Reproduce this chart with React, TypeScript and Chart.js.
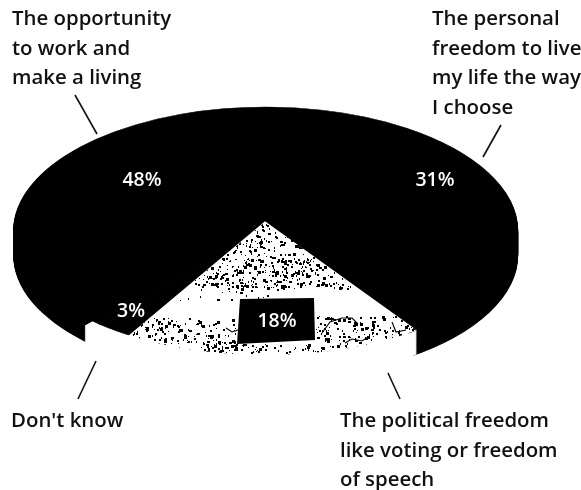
import { useEffect, useRef } from "react";
import { Chart, ArcElement, PieController } from "chart.js";

Chart.register(ArcElement, PieController);

const categories = [
  "Don't know",
  "The opportunity to work and make a living",
  "The personal freedom to live my life the way I choose",
  "The political freedom like voting or freedom of speech",
];
const shares = [3, 48, 31, 18];
const topColors = ["#000000", "#000000", "#000000", "#ffffff"];
const sideColors = ["#ffffff", "#000000", "#000000", "#ffffff"];

const callouts = [
  { lines: ["The opportunity", "to work and", "make a living"], x: 12, y: 25 },
  { lines: ["The personal", "freedom to live", "my life the way", "I choose"], x: 432, y: 25 },
  { lines: ["Don't know"], x: 11, y: 427 },
  { lines: ["The political freedom", "like voting or freedom", "of speech"], x: 340, y: 427 },
];
const leaders = [
  [75, 95, 97, 134],
  [501, 125, 483, 157],
  [96, 361, 78, 399],
  [388, 373, 400, 399],
];
// Anchor of each percentage, in the same order as `shares`.
const shareAnchors = [
  [131, 311],
  [142, 180],
  [435, 180],
  [277, 321],
];
const labelPlate = [
  [240, 299],
  [314, 298],
  [315, 340],
  [237, 344],
];
// Areas of the front wedge that carry a printed mottling: x0, x1, y0, y1, count.
const mottleBands = [
  [245, 300, 222, 250, 70],
  [185, 345, 240, 262, 150],
  [195, 350, 258, 288, 320],
  [160, 300, 282, 300, 30],
  [130, 238, 318, 352, 190],
  [200, 238, 340, 354, 50],
  [316, 420, 316, 350, 190],
  [240, 330, 344, 354, 45],
];
// Longer ink traces left in the lower part of the wedge.
const mottleTraces = [
  [[322, 333], [330, 322], [342, 318], [352, 318], [358, 324]],
  [[345, 343], [352, 339], [362, 341], [368, 337]],
  [[226, 328], [232, 332], [238, 330]],
  [[392, 322], [396, 332], [406, 330]],
];

const CX = 265.7;
const CY = 231;
const RX = 252;
const RY = 124;
const DEPTH = 24;

function tilt(ctx: CanvasRenderingContext2D, arc: any) {
  ctx.translate(CX, CY);
  ctx.scale(RX / arc.outerRadius, RY / arc.outerRadius);
  ctx.translate(-arc.x, -arc.y);
}

// Integer scrambler used to scatter the mottling the same way on every draw.
function scramble(n: number) {
  let h = Math.imul(n + 1, 0x9e3779b1);
  h ^= h >>> 15;
  h = Math.imul(h, 0x85ebca77);
  h ^= h >>> 13;
  return (h >>> 0) / 4294967296;
}

const tiltedPie = {
  id: "tiltedPie",
  beforeDatasetsDraw(chart: any) {
    const ctx = chart.ctx as CanvasRenderingContext2D;
    const arcs = chart.getDatasetMeta(0).data as any[];
    const layers = [
      (i: number) => sideColors[i] === "#000000",
      (i: number) => sideColors[i] !== "#000000",
    ];
    for (const keep of layers) {
      for (let d = DEPTH; d >= 1; d--) {
        arcs.forEach((arc, i) => {
          if (!keep(i)) return;
          const side = Object.create(arc);
          const white = sideColors[i] === "#ffffff";
          side.options = {
            ...arc.options,
            backgroundColor: sideColors[i],
            borderColor: sideColors[i],
            borderWidth: white ? 20 : 1,
            borderJoinStyle: "miter",
          };
          ctx.save();
          ctx.translate(0, d);
          tilt(ctx, arc);
          side.draw(ctx);
          ctx.restore();
        });
      }
    }
  },
  beforeDatasetDraw(chart: any) {
    const ctx = chart.ctx as CanvasRenderingContext2D;
    ctx.save();
    tilt(ctx, chart.getDatasetMeta(0).data[0]);
  },
  afterDatasetDraw(chart: any) {
    chart.ctx.restore();
  },
  afterDatasetsDraw(chart: any) {
    const ctx = chart.ctx as CanvasRenderingContext2D;
    const arcs = chart.getDatasetMeta(0).data as any[];
    const front = arcs[3];

    // Mottling, kept inside the front wedge.
    ctx.save();
    const grow = 10 / front.outerRadius;
    ctx.save();
    tilt(ctx, front);
    ctx.beginPath();
    ctx.moveTo(front.x, front.y - 18);
    ctx.arc(front.x, front.y, front.outerRadius, front.startAngle - grow, front.endAngle + grow);
    ctx.closePath();
    ctx.restore();
    ctx.clip();
    ctx.fillStyle = "#000";
    let n = 1;
    for (const [x0, x1, y0, y1, count] of mottleBands) {
      for (let i = 0; i < count; i++) {
        const u = scramble(n++);
        const v = scramble(n++);
        const s = scramble(n++);
        const w = s < 0.5 ? 1 : s < 0.85 ? 2 : 3;
        const h = s < 0.3 ? 1 : s < 0.9 ? 2 : 3;
        ctx.fillRect(Math.round(x0 + u * (x1 - x0)), Math.round(y0 + v * (y1 - y0)), w, h);
      }
    }
    ctx.strokeStyle = "#000";
    ctx.lineWidth = 1.1;
    for (const trace of mottleTraces) {
      ctx.beginPath();
      trace.forEach(([x, y], i) => (i ? ctx.lineTo(x, y) : ctx.moveTo(x, y)));
      ctx.stroke();
    }
    ctx.restore();

    // Plate under the front wedge's percentage.
    ctx.fillStyle = "#000";
    ctx.beginPath();
    labelPlate.forEach(([x, y], i) => (i ? ctx.lineTo(x, y) : ctx.moveTo(x, y)));
    ctx.closePath();
    ctx.fill();

    // Percentages.
    ctx.fillStyle = "#fff";
    ctx.textAlign = "center";
    ctx.textBaseline = "middle";
    ctx.font = "600 19.5px 'Open Sans'";
    shares.forEach((value, i) => {
      ctx.fillText(`${value}%`, shareAnchors[i][0], shareAnchors[i][1]);
    });

    // Leader lines.
    ctx.strokeStyle = "#111";
    ctx.lineWidth = 1.6;
    for (const [x0, y0, x1, y1] of leaders) {
      ctx.beginPath();
      ctx.moveTo(x0, y0);
      ctx.lineTo(x1, y1);
      ctx.stroke();
    }

    // Category callouts.
    ctx.fillStyle = "#111";
    ctx.textAlign = "left";
    ctx.textBaseline = "alphabetic";
    ctx.font = "600 20.4px 'Open Sans'";
    for (const { lines, x, y } of callouts) {
      lines.forEach((line, i) => ctx.fillText(line, x, y + i * 29.5));
    }
  },
};

export default function App() {
  const ref = useRef<HTMLCanvasElement>(null);
  useEffect(() => {
    const chart = new Chart(ref.current!, {
      type: "pie",
      data: {
        labels: categories,
        datasets: [
          {
            data: shares,
            backgroundColor: topColors,
            borderColor: topColors,
            borderWidth: [1, 1, 1, 20],
            borderJoinStyle: "miter",
            clip: false,
          } as any,
        ],
      },
      options: {
        responsive: false,
        animation: false,
        rotation: 210.4,
        events: [],
        plugins: { legend: { display: false }, tooltip: { enabled: false } },
      },
      plugins: [tiltedPie],
    } as any);
    return () => chart.destroy();
  }, []);
  return (
    <canvas
      ref={ref}
      width={581}
      height={490}
      style={{ position: "absolute", left: 0, top: 0, display: "block", background: "#fff" }}
    />
  );
}
